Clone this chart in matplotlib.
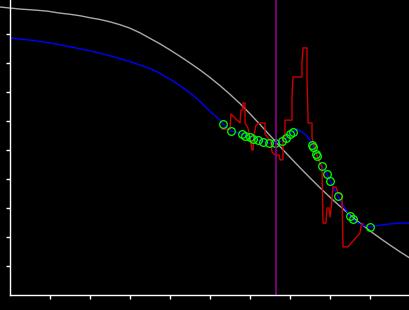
import matplotlib
matplotlib.use("Agg")
import matplotlib.pyplot as plt
import numpy as np

# #############################################################################
# Datos

# curva gris (referencia suave)
gris_x = [-0.25, 0.25, 0.575, 0.925, 1.25, 1.5, 1.75, 2.0, 2.25, 2.5, 2.75,
          3.0, 3.25, 3.5, 3.75, 4.0, 4.25, 4.5, 4.75, 5.0, 5.25, 5.5, 5.75,
          6.0, 6.25, 6.5, 6.75, 7.0, 7.25, 7.5, 7.75, 8.0, 8.25, 8.5, 8.75,
          9.0, 9.25, 9.5, 9.75, 10.0]
gris_y = [9.93, 9.86, 9.83, 9.79, 9.72, 9.68, 9.63, 9.56, 9.50, 9.42, 9.32,
          9.20, 9.04, 8.85, 8.66, 8.45, 8.23, 8.00, 7.76, 7.50, 7.22, 6.92, 6.60,
          6.25, 5.88, 5.50, 5.12, 4.75, 4.39, 4.04, 3.70, 3.37, 3.06, 2.76, 2.48,
          2.21, 1.96, 1.72, 1.49, 1.27]

# curva azul (ajuste)
azul_x = [0.0, 0.5, 1.0, 1.5, 2.0, 2.5, 3.0, 3.25, 3.5, 3.75, 4.0, 4.25, 4.5,
          4.75, 5.0, 5.25, 5.325, 5.525, 5.8, 6.0, 6.2, 6.475, 6.625, 6.8, 6.9,
          7.0, 7.075, 7.175, 7.3, 7.425, 7.525, 7.575, 7.675, 7.8, 7.925, 8.0,
          8.2, 8.325, 8.5, 8.625, 8.8, 9.0, 9.25, 9.5, 9.75, 10.0]
azul_y = [8.86, 8.79, 8.69, 8.56, 8.42, 8.25, 8.05, 7.93, 7.81, 7.64, 7.44,
          7.22, 6.97, 6.68, 6.33, 6.03, 5.90, 5.66, 5.55, 5.45, 5.34, 5.24, 5.24,
          5.31, 5.41, 5.55, 5.62, 5.72, 5.62, 5.48, 5.28, 5.10, 4.79, 4.45, 4.17,
          3.93, 3.41, 3.10, 2.72, 2.55, 2.41, 2.34, 2.41, 2.45, 2.48, 2.48]

# datos observados (rojo)
rojo_x = [5.3, 5.5, 5.525, 5.75, 5.775, 5.825, 5.825, 5.875, 5.875, 5.95, 6.0,
          6.05, 6.075, 6.1, 6.15, 6.225, 6.375, 6.375, 6.5, 6.525, 6.55, 6.625,
          6.725, 6.75, 6.825, 6.825, 6.875, 6.875, 7.05, 7.05, 7.075, 7.3, 7.3,
          7.325, 7.425, 7.425, 7.45, 7.45, 7.55, 7.55, 7.625, 7.75, 7.8, 7.825,
          7.9, 7.925, 7.975, 8.0, 8.025, 8.075, 8.15, 8.2, 8.3, 8.325, 8.45,
          8.75, 8.775, 8.825]
rojo_y = [5.72, 5.72, 6.24, 5.93, 6.38, 6.38, 6.62, 6.62, 5.93, 5.76, 5.41,
          5.0, 5.0, 5.52, 5.85, 5.93, 5.93, 5.55, 5.34, 5.24, 4.93, 4.83,
          4.83, 4.66, 4.66, 5.45, 5.45, 6.03, 6.03, 6.79, 7.52, 7.52, 8.0,
          8.52, 8.52, 7.48, 6.14, 5.93, 5.93, 5.45, 5.0, 4.55, 4.41, 2.48,
          2.48, 3.0, 3.0, 2.69, 2.93, 3.72, 3.72, 3.52, 3.45, 1.66, 1.66,
          2.14, 2.38, 2.45]

# puntos seleccionados (circulos verdes)
puntos_x = [5.325, 5.525, 5.8, 5.875, 6.0, 6.075, 6.2, 6.325, 6.475, 6.625,
            6.8, 6.9, 7.0, 7.075, 7.55, 7.575, 7.65, 7.675, 7.8, 7.925, 8.0,
            8.2, 8.5, 8.575, 9.0]
puntos_y = [5.90, 5.66, 5.55, 5.48, 5.45, 5.38, 5.34, 5.28, 5.24, 5.24,
            5.31, 5.41, 5.55, 5.62, 5.17, 5.10, 4.86, 4.79, 4.45, 4.17, 3.93,
            3.41, 2.72, 2.62, 2.34]

marca_vertical = 6.65

# #############################################################################
# Grafico

fig = plt.figure(figsize=(4.1, 3.1), dpi=100, facecolor="black")
ax = fig.add_axes([10 / 410, 15 / 310, 400 / 410, 295 / 310])
ax.set_facecolor("black")

ax.plot(gris_x, gris_y, color="#a8a8a8", lw=1, clip_on=False)
ax.plot(azul_x, azul_y, color="#0000ff", lw=1)
ax.plot(rojo_x, rojo_y, color="#cc0000", lw=1)
ax.plot(puntos_x, puntos_y, "o", ms=5.5, mfc="none", mec="#00ff00", mew=0.9)
ax.axvline(marca_vertical, color="#880088", lw=1.2)

ax.set_xlim(0, 10)
ax.set_ylim(0, 295 / 29)
ax.set_xticks(np.arange(1, 10))
ax.set_yticks(np.arange(1, 10))
ax.set_xticklabels([])
ax.set_yticklabels([])
ax.tick_params(colors="white", length=3, width=1, direction="out")
for lado in ["top", "right"]:
    ax.spines[lado].set_visible(False)
for lado in ["left", "bottom"]:
    ax.spines[lado].set_color("white")
    ax.spines[lado].set_linewidth(1)

fig.savefig("out.png", dpi=100, facecolor="black")
